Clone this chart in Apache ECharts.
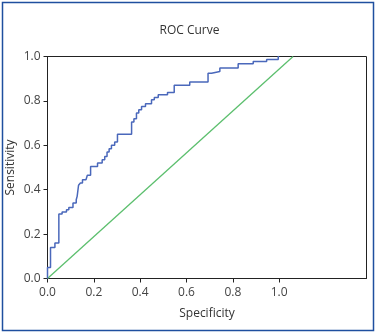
<!DOCTYPE html>
<html>
<head>
<meta charset="utf-8">
<script src="https://cdn.jsdelivr.net/npm/echarts@6/dist/echarts.min.js"></script>
<style>
  html, body { margin: 0; padding: 0; background: #fff; }
  #chart { width: 379px; height: 335px; }
</style>
</head>
<body>
<div id="chart"></div>
<script>
  // ROC curve vertices (1 - specificity on x, sensitivity on y)
  const specificity = [0, 0, 0.013, 0.032, 0.049, 0.063, 0.082, 0.092, 0.11, 0.124, 0.128, 0.134, 0.142, 0.151,
    0.166, 0.172, 0.186, 0.216, 0.236, 0.247, 0.257, 0.266, 0.276, 0.29, 0.302, 0.363, 0.373, 0.384, 0.394,
    0.406, 0.423, 0.449, 0.461, 0.478, 0.518, 0.547, 0.614, 0.693, 0.708, 0.744, 0.823, 0.888, 0.946, 0.996, 1.0]
  const sensitivity = [0, 0.05, 0.14, 0.16, 0.29, 0.30, 0.31, 0.32, 0.34, 0.355, 0.37, 0.42, 0.43, 0.445,
    0.45, 0.465, 0.505, 0.52, 0.535, 0.55, 0.57, 0.585, 0.60, 0.615, 0.65, 0.705, 0.72, 0.745, 0.76,
    0.775, 0.787, 0.805, 0.815, 0.828, 0.838, 0.87, 0.885, 0.925, 0.932, 0.948, 0.967, 0.977, 0.987, 1.0, 1.0]
  // reference line
  const refX = [0, 1.06]
  const refY = [0, 1.0]
  const tickValues = [0, 0.2, 0.4, 0.6, 0.8, 1.0]

  const font = '"Open Sans", "DejaVu Sans", sans-serif'
  const chart = echarts.init(document.getElementById('chart'))

  chart.setOption({
    animation: false,
    textStyle: { fontFamily: font },
    title: {
      text: 'ROC Curve',
      left: 'center',
      top: 20,
      textStyle: { fontSize: 12, fontWeight: 'normal', color: '#333', fontFamily: font }
    },
    graphic: [{
      type: 'rect',
      shape: { x: 2.5, y: 2.5, width: 371, height: 328 },
      style: { fill: 'none', stroke: '#1f4f9f', lineWidth: 1.5 },
      silent: true
    }],
    grid: {
      left: 47.5,
      right: 12.5,
      top: 56.5,
      bottom: 56.5,
      outerBoundsMode: 'none',
      containLabel: false,
      show: true,
      borderColor: '#222',
      borderWidth: 1
    },
    xAxis: {
      type: 'value',
      min: 0,
      max: 1.377,
      name: 'Specificity',
      nameLocation: 'middle',
      nameGap: 29,
      nameMoveOverlap: false,
      nameTextStyle: { fontSize: 12, color: '#333', fontFamily: font },
      splitLine: { show: false },
      axisLine: { show: true, lineStyle: { color: '#222' } },
      axisTick: { show: true, length: 4, customValues: tickValues, lineStyle: { color: '#222' } },
      axisLabel: {
        customValues: tickValues,
        fontSize: 12,
        color: '#444',
        margin: 8,
        formatter: v => v.toFixed(1)
      }
    },
    yAxis: {
      type: 'value',
      min: 0,
      max: 1,
      interval: 0.2,
      name: 'Sensitivity',
      nameLocation: 'middle',
      nameGap: 31,
      nameMoveOverlap: false,
      nameTextStyle: { fontSize: 12, color: '#333', fontFamily: font },
      splitLine: { show: false },
      axisLine: { show: true, lineStyle: { color: '#222' } },
      axisTick: { show: true, length: 4, lineStyle: { color: '#222' } },
      axisLabel: {
        fontSize: 12,
        color: '#444',
        margin: 7,
        formatter: v => v.toFixed(1)
      }
    },
    series: [
      {
        type: 'line',
        data: refX.map((x, i) => [x, refY[i]]),
        symbol: 'none',
        clip: true,
        lineStyle: { color: '#5cbf6e', width: 1.3 }
      },
      {
        type: 'line',
        step: 'end',
        data: specificity.map((x, i) => [x, sensitivity[i]]),
        symbol: 'none',
        lineStyle: { color: '#4a68bb', width: 1.5 }
      }
    ]
  })
</script>
</body>
</html>
